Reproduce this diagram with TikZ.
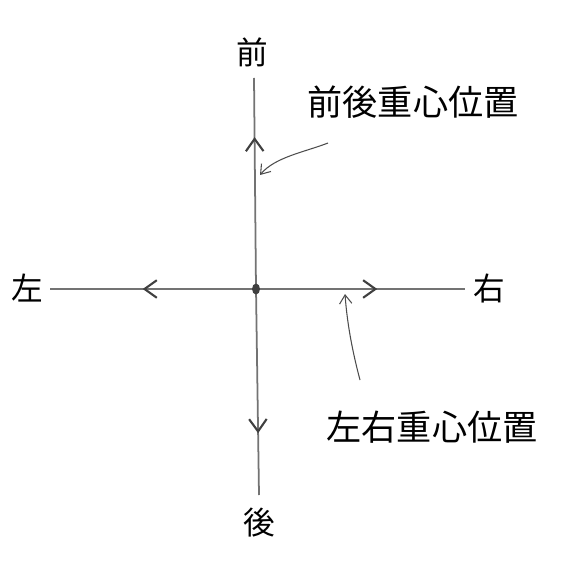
\documentclass[tikz,border=0pt]{standalone}
\usepackage{fontspec}
\newfontfamily\jp{Noto Sans CJK JP}
\usetikzlibrary{arrows.meta,decorations.markings}

\tikzset{
  axis/.style={draw=black!55, line width=1pt},
  dirlabel/.style={font=\jp\fontsize{18}{18}\selectfont, inner sep=0pt},
  namelabel/.style={font=\jp\fontsize{20}{20}\selectfont, inner sep=0pt},
  pointer/.style={draw=black!70, line width=0.6pt, -{Straight Barb[length=5pt,width=7pt]}},
  midarrow/.style={postaction={decorate}, decoration={markings,
      mark=at position #1 with {\arrow[black!75, line width=1.2pt]{Straight Barb[length=7pt,width=10pt]}}}}
}

\begin{document}
\begin{tikzpicture}[x=0.02cm,y=-0.02cm]
        \useasboundingbox (0,0) rectangle (571,577);

        % axes
        \coordinate (o)   at (256,289);
        \coordinate (top) at (254,78);
        \coordinate (bot) at (259,495);
        \coordinate (lft) at (50,289);
        \coordinate (rgt) at (465,289);

        \path[axis, midarrow=0.72] (o) -- (top);
        \path[axis, midarrow=0.70] (o) -- (bot);
        \path[axis, midarrow=0.55] (o) -- (lft);
        \path[axis, midarrow=0.58] (o) -- (rgt);
        \fill[black!75] (o) ellipse [x radius=4, y radius=5.5];

        % direction labels
        \node[dirlabel] (front) at (252,52)  {前};
        \node[dirlabel] (back)  at (259,523) {後};
        \node[dirlabel] (left)  at (27,288)  {左};
        \node[dirlabel] (right) at (489,288) {右};

        % names
        \node[namelabel] (fb) at (413,102) {前後重心位置};
        \node[namelabel] (lr) at (432,427) {左右重心位置};

        % pointers
        \coordinate (fbstart) at (328,143);
        \coordinate (fbend)   at (260,175);
        \coordinate (lrstart) at (360,380);
        \coordinate (lrend)   at (345,294);
        \path[pointer] (fbstart) .. controls (305,152) and (275,157) .. (fbend);
        \path[pointer] (lrstart) .. controls (352,350) and (347,322) .. (lrend);

      \end{tikzpicture}
\end{document}
